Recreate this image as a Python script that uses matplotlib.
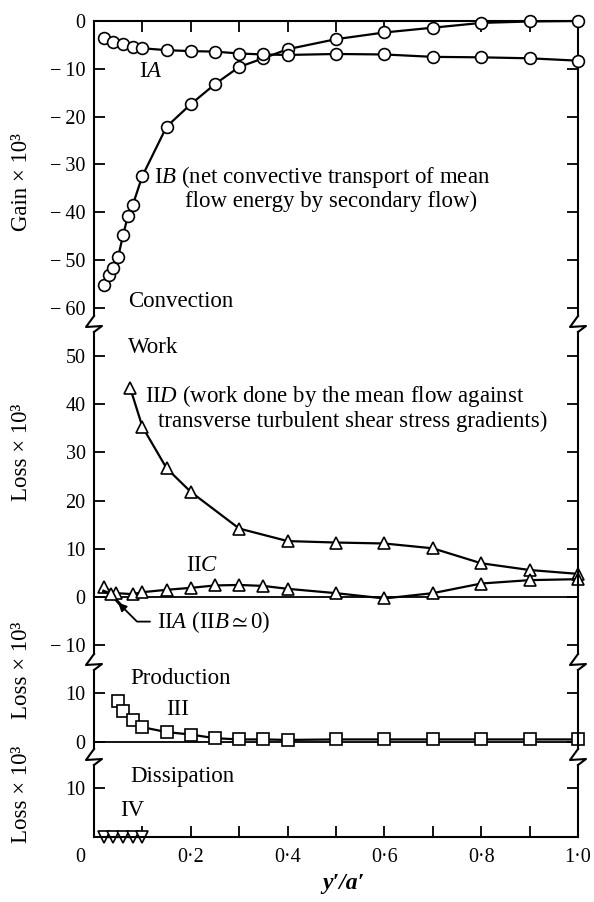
import numpy as np
import matplotlib
matplotlib.use("Agg")
import matplotlib.pyplot as plt
from matplotlib.lines import Line2D
from matplotlib.transforms import ScaledTranslation

plt.rcParams['font.family'] = ['Liberation Serif', 'DejaVu Serif']
plt.rcParams['mathtext.fontset'] = 'custom'
plt.rcParams['mathtext.rm'] = 'Liberation Serif'
plt.rcParams['mathtext.it'] = 'Liberation Serif:italic'
plt.rcParams['mathtext.bf'] = 'Liberation Serif:bold'
plt.rcParams['mathtext.fallback'] = 'stix'

# ---------------- data ----------------
IA_x = [0.02, 0.04, 0.06, 0.08, 0.10, 0.15, 0.20, 0.25, 0.30, 0.35, 0.40, 0.5, 0.6, 0.7, 0.8, 0.9, 1.0]
IA_y = [-3.5, -4.3, -4.8, -5.4, -5.7, -6.1, -6.3, -6.4, -6.8, -7.0, -7.1, -6.9, -7.0, -7.5, -7.6, -7.8, -8.3]

IB_x = [0.02, 0.03, 0.04, 0.05, 0.06, 0.07, 0.08, 0.10, 0.15, 0.20, 0.25, 0.30, 0.35, 0.40,
        0.5, 0.6, 0.7, 0.8, 0.9, 1.0]
IB_y = [-55.2, -53.1, -51.6, -49.3, -44.8, -40.8, -38.5, -32.4, -22.1, -17.4, -13.2, -9.6, -7.8, -5.9,
        -3.8, -2.4, -1.4, -0.4, -0.1, 0.0]

IID_x = [0.075, 0.10, 0.15, 0.20, 0.30, 0.40, 0.50, 0.60, 0.70, 0.80, 0.90, 1.0]
IID_y = [43.3, 35.3, 26.7, 21.8, 14.2, 11.6, 11.3, 11.1, 10.1, 7.0, 5.6, 4.8]

IIC_x = [0.02, 0.045, 0.08, 0.10, 0.15, 0.20, 0.25, 0.30, 0.35, 0.40, 0.50, 0.60, 0.70, 0.80, 0.90, 1.0]
IIC_y = [2.0, 0.8, 0.6, 1.0, 1.5, 1.9, 2.4, 2.5, 2.3, 1.7, 0.8, -0.3, 0.8, 2.8, 3.5, 3.7]

IIA_x = [0.02, 0.035, 0.06]
IIA_y = [1.2, 0.6, -2.2]

III_x = [0.05, 0.06, 0.08, 0.10, 0.15, 0.20, 0.25, 0.30, 0.35, 0.40, 0.5, 0.6, 0.7, 0.8, 0.9, 1.0]
III_y = [8.3, 6.3, 4.5, 3.0, 2.0, 1.5, 0.75, 0.5, 0.5, 0.4, 0.5, 0.5, 0.5, 0.5, 0.5, 0.5]

IV_x = [0.02, 0.04, 0.06, 0.08, 0.10]
IV_y = [0.0, 0.0, 0.0, 0.0, 0.0]

x_ticks = [0.0, 0.2, 0.4, 0.6, 0.8, 1.0]
x_ticklabels = ["0", "0·2", "0·4", "0·6", "0·8", "1·0"]
gain_ticks = [0, -10, -20, -30, -40, -50, -60]
work_ticks = [50, 40, 30, 20, 10, 0, -10]
prod_ticks = [10, 0]
diss_ticks = [10]

# ---------------- layout ----------------
W, H = 594, 902
fig = plt.figure(figsize=(W / 100, H / 100), dpi=100)
XL, XR = 94, 578
panels = [(21, 327), (327, 665), (665, 760), (760, 837)]
ylims = [(-64.0, 0.0), (-14.1, 56.0), (-3.7, 15.7), (0.0, 15.7)]
sbounds = [(-61.7, 0.0), (-11.8, 55.0), (-1.46, 14.68), (0.0, 14.68)]
TFS = 14.5

axes = []
for (t, b), yl, sb in zip(panels, ylims, sbounds):
    ax = fig.add_axes([XL / W, 1 - b / H, (XR - XL) / W, (b - t) / H])
    ax.patch.set_alpha(0)
    ax.set_xlim(0, 1)
    ax.set_ylim(*yl)
    for s in ['left', 'right']:
        ax.spines[s].set_bounds(*sb)
        ax.spines[s].set_linewidth(1.5)
    for s in ['top', 'bottom']:
        ax.spines[s].set_visible(False)
        ax.spines[s].set_linewidth(1.5)
    ax.tick_params(axis='y', direction='in', left=True, right=True, length=8, width=1.3,
                   labelsize=TFS, pad=6)
    ax.set_xticks(x_ticks)
    ax.set_xticks(np.arange(0.1, 1.0, 0.2), minor=True)
    ax.tick_params(axis='x', which='both', direction='in', top=False, bottom=False,
                   labelbottom=False, length=8, width=1.3, labelsize=TFS)
    axes.append(ax)

ax1, ax2, ax3, ax4 = axes
ax1.spines['top'].set_visible(True)
ax1.tick_params(axis='x', which='both', top=True)
ax4.spines['bottom'].set_visible(True)
ax4.tick_params(axis='x', which='both', bottom=True, labelbottom=True, pad=8)
ax4.set_xticklabels(x_ticklabels)

def fmt(v):
    return "\u2212\u2009" + str(abs(v)) if v < 0 else str(v)

for ax, tk in zip(axes, [gain_ticks, work_ticks, prod_ticks, diss_ticks]):
    ax.set_yticks(tk)
    ax.set_yticklabels([fmt(v) for v in tk])

lbl0 = ax4.get_xticklabels()[0]
lbl0.set_transform(lbl0.get_transform() + ScaledTranslation(-10 / 72, 0, fig.dpi_scale_trans))

# zero lines
ax2.axhline(0, color='k', lw=1.3)
ax3.axhline(0, color='k', lw=1.3)

# ---------------- series ----------------
line_kw = dict(color='k', lw=1.6, mfc='white', mec='k', mew=1.2, clip_on=False)
ax1.plot(IB_x, IB_y, marker='o', ms=8.5, zorder=3, **line_kw)
ax1.plot(IA_x, IA_y, marker='o', ms=8.5, zorder=4, **line_kw)

ax2.plot(IID_x, IID_y, marker='^', ms=9, **line_kw)
ax2.plot(IIC_x, IIC_y, marker='^', ms=9, **line_kw)
ax2.plot(IIA_x, IIA_y, marker='^', ms=9, markevery=[1], color='k', lw=2.2,
         mfc='white', mec='k', mew=1.2, clip_on=False)

ax3.plot(III_x, III_y, marker='s', ms=8.5, **line_kw)
ax4.plot(IV_x, IV_y, marker='v', ms=8.5, **line_kw)

# ---------------- annotations ----------------
fs = 16.5
tk = dict(fontsize=fs, ha='left', va='center')
ax1.text(0.093, -10.6, r"I$A$", **tk)
ax1.text(0.124, -32.6, r"I$B$ (net convective transport of mean", **tk)
ax1.text(0.188, -37.8, "flow energy by secondary flow)", **tk)
ax1.text(0.070, -58.7, "Convection", **tk)

ax2.text(0.070, 51.7, "Work", **tk)
ax2.text(0.105, 41.6, r"II$D$ (work done by the mean flow against", **tk)
ax2.text(0.132, 36.4, "transverse turbulent shear stress gradients)", **tk)
ax2.text(0.190, 6.6, r"II$C$", **tk)
ax2.annotate(r"II$A$ (II$B\simeq$0)", xy=(0.05, -1.2), xytext=(0.13, -5.1),
             fontsize=fs, ha='left', va='center',
             arrowprops=dict(arrowstyle='-|>', color='k', lw=1.3, shrinkA=3, shrinkB=0,
                             mutation_scale=12,
                             connectionstyle='angle,angleA=0,angleB=-45,rad=0'))

ax3.text(0.074, 13.0, "Production", **tk)
ax3.text(0.150, 6.7, "III", **tk)
ax4.text(0.074, 12.3, "Dissipation", **tk)
ax4.text(0.054, 5.5, "IV", **tk)

# axis labels
YFS = 16.5
fig.text(22 / W, 1 - 182 / H, "Gain × 10³", rotation=90, ha='center', va='center', fontsize=YFS)
fig.text(22 / W, 1 - 452 / H, "Loss × 10³", rotation=90, ha='center', va='center', fontsize=YFS)
fig.text(22 / W, 1 - 670 / H, "Loss × 10³", rotation=90, ha='center', va='center', fontsize=YFS)
fig.text(22 / W, 1 - 794 / H, "Loss × 10³", rotation=90, ha='center', va='center', fontsize=YFS)
fig.text(343 / W, 1 - 883 / H, "y′/a′", ha='center', va='center', fontsize=17,
         fontstyle='italic', fontweight='bold')

# axis breaks
def zig(x, y):
    xs = [x, x - 8, x + 8, x]
    ys = [y - 11, y, y - 1, y + 5]
    fig.add_artist(Line2D([v / W for v in xs], [1 - v / H for v in ys],
                          transform=fig.transFigure, color='k', lw=1.5))

for yb in [327, 665, 760]:
    zig(XL, yb)
    zig(XR, yb)

fig.savefig("out.png", dpi=100)
